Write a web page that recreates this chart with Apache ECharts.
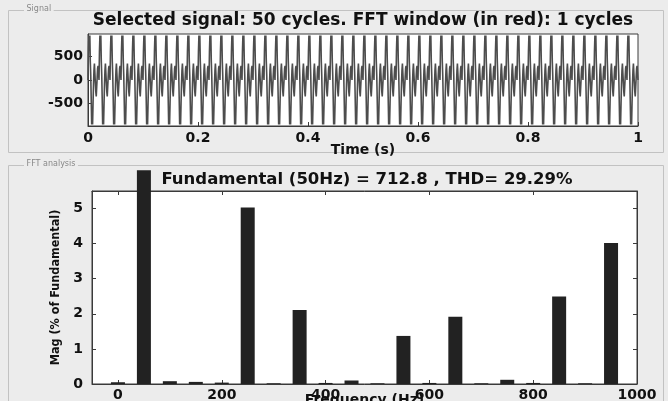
<!DOCTYPE html>
<html>
<head>
<meta charset="utf-8">
<script src="https://cdn.jsdelivr.net/npm/echarts@6/dist/echarts.min.js"></script>
<style>
  html, body { margin: 0; padding: 0; background: #ececec; }
  #chart { width: 668px; height: 401px; }
</style>
</head>
<body>
<div id="chart"></div>
<script>
// ---- Signal panel data ----
const cycleCount = 50;                     // cycles in the selected signal
const cycleShape = [0, 600, 950, 700, 950, 400,
                    100, -400, -950, -700, -950, -500,
                    -100, 200, 350, 150, -50, -250,
                    -350, -150, 50, 250, 300, 150];
const timeTicks = [0, 0.2, 0.4, 0.6, 0.8, 1];
const signalTicks = [-500, 0, 500];

// ---- FFT panel data ----
const harmonicFreqs = [0, 50, 100, 150, 200, 250, 300, 350, 400, 450, 500, 550, 600, 650, 700, 750, 800, 850, 900, 950];
const harmonicMags  = [0.05, 6.09, 0.08, 0.06, 0.04, 5.03, 0.02, 2.11, 0.03, 0.10, 0.02, 1.37, 0.03, 1.92, 0.02, 0.12, 0.03, 2.49, 0.02, 4.02];
const freqTicks = [0, 200, 400, 600, 800, 1000];
const magTicks = [0, 1, 2, 3, 4, 5];

// Time series: the cycle shape laid out over each of the 50 cycles in one second
const signalPoints = [];
for (let c = 0; c < cycleCount; c++) {
  for (let k = 0; k < cycleShape.length; k++) {
    signalPoints.push([(c + k / cycleShape.length) / cycleCount, cycleShape[k]]);
  }
}
signalPoints.push([1, cycleShape[0]]);

const barPoints = harmonicFreqs.map((f, i) => [f, harmonicMags[i]]);

const FONT = 'DejaVu Sans';
const tickFont = { color: '#111', fontFamily: FONT, fontWeight: 'bold', fontSize: 14 };
const boxLine = { show: true, onZero: false, lineStyle: { color: '#3a3a3a', width: 1 } };
const inTick = (vals) => ({ show: true, inside: true, length: 4, customValues: vals, lineStyle: { color: '#3a3a3a' } });
const plain = v => String(v);

const chart = echarts.init(document.getElementById('chart'));
chart.setOption({
  backgroundColor: '#ececec',
  animation: false,
  title: [
    {
      text: 'Selected signal: 50 cycles. FFT window (in red): 1 cycles',
      left: 358, top: 7, textAlign: 'center',
      textStyle: { fontFamily: FONT, fontWeight: 'bold', fontSize: 17, color: '#111' }
    },
    {
      text: 'Fundamental (50Hz) = 712.8 , THD= 29.29%',
      left: 362, top: 166, textAlign: 'center',
      textStyle: { fontFamily: FONT, fontWeight: 'bold', fontSize: 16.5, color: '#111' }
    }
  ],
  graphic: [
    { type: 'rect', shape: { x: 8.5, y: 10.5, width: 655, height: 142 }, style: { fill: 'none', stroke: '#c2c2c2', lineWidth: 1 }, z: 0 },
    { type: 'rect', shape: { x: 8.5, y: 165.5, width: 655, height: 300 }, style: { fill: 'none', stroke: '#c2c2c2', lineWidth: 1 }, z: 0 },
    { type: 'text', x: 24, y: 5, style: { text: ' Signal ', fontSize: 8, fontFamily: FONT, fill: '#888', backgroundColor: '#ececec' }, z: 1 },
    { type: 'text', x: 24, y: 160, style: { text: ' FFT analysis ', fontSize: 8, fontFamily: FONT, fill: '#888', backgroundColor: '#ececec' }, z: 1 }
  ],
  grid: [
    { left: 88, right: 30, top: 34, height: 92, outerBoundsMode: 'none', containLabel: false,
      show: true, backgroundColor: '#fff', borderColor: '#3a3a3a', borderWidth: 1 },
    { left: 92, right: 31, top: 191, bottom: 17, outerBoundsMode: 'none', containLabel: false,
      show: true, backgroundColor: '#fff', borderColor: '#3a3a3a', borderWidth: 1 }
  ],
  xAxis: [
    {
      type: 'value', gridIndex: 0, min: 0, max: 1,
      axisLine: boxLine, axisTick: inTick(timeTicks), splitLine: { show: false },
      axisLabel: Object.assign({ customValues: timeTicks, margin: 5, formatter: plain }, tickFont),
      name: 'Time (s)', nameLocation: 'middle', nameGap: 17, nameMoveOverlap: false,
      nameTextStyle: { fontFamily: FONT, fontWeight: 'bold', fontSize: 14, color: '#111', verticalAlign: 'top' }
    },
    {
      type: 'value', gridIndex: 1, min: -50, max: 1000,
      axisLine: boxLine, axisTick: inTick(freqTicks), splitLine: { show: false },
      axisLabel: Object.assign({ customValues: freqTicks, margin: 4, formatter: plain }, tickFont),
      name: 'Frequency (Hz)', nameLocation: 'middle', nameGap: 9, nameMoveOverlap: false,
      nameTextStyle: { fontFamily: FONT, fontWeight: 'bold', fontSize: 14, color: '#111', verticalAlign: 'top' }
    },
    {
      type: 'value', gridIndex: 1, position: 'top', min: -50, max: 1000,
      axisLine: boxLine, axisTick: inTick(freqTicks), axisLabel: { show: false }, splitLine: { show: false }
    }
  ],
  yAxis: [
    {
      type: 'value', gridIndex: 0, min: -980, max: 980,
      axisLine: boxLine, axisTick: inTick(signalTicks), splitLine: { show: false },
      axisLabel: Object.assign({ customValues: signalTicks, margin: 5, formatter: plain }, tickFont)
    },
    {
      type: 'value', gridIndex: 1, min: 0, max: 5.5,
      axisLine: boxLine, axisTick: inTick(magTicks), splitLine: { show: false },
      axisLabel: Object.assign({ customValues: magTicks, margin: 9, formatter: plain }, tickFont),
      name: 'Mag (% of Fundamental)', nameLocation: 'middle', nameGap: 30, nameRotate: 90,
      nameTextStyle: { fontFamily: "'DejaVu Sans Condensed', 'Liberation Sans', sans-serif", fontWeight: 'bold', fontSize: 12.5, color: '#111' }
    },
    {
      type: 'value', gridIndex: 1, position: 'right', min: 0, max: 5.5,
      axisLine: boxLine, axisTick: inTick(magTicks), axisLabel: { show: false }, splitLine: { show: false }
    }
  ],
  series: [
    {
      type: 'line', xAxisIndex: 0, yAxisIndex: 0, data: signalPoints,
      showSymbol: false, symbol: 'none',
      lineStyle: { color: '#4d4d4d', width: 1.6 }
    },
    {
      type: 'bar', xAxisIndex: 1, yAxisIndex: 1, data: barPoints,
      barWidth: 14, clip: false,
      itemStyle: { color: '#222' }
    }
  ]
});
</script>
</body>
</html>
